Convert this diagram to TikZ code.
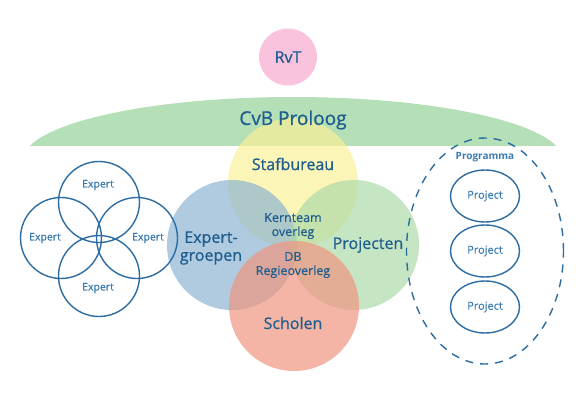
\documentclass[tikz,border=0pt]{standalone}
\usepackage{fontspec}
\setmainfont{Open Sans}
\newfontfamily\semib{Open Sans}[FakeBold=0.8]
\newfontfamily\semil{Open Sans}[FakeBold=0.4]
\usetikzlibrary{shapes.geometric}
\definecolor{txt}{HTML}{1E5E8E}
\definecolor{ltxt}{HTML}{3A7BB2}
\definecolor{lin}{HTML}{2B6CA3}
\definecolor{band}{HTML}{B5DFB6}
\definecolor{pinkc}{HTML}{F9C2DD}
\definecolor{yel}{HTML}{F9F198}
\definecolor{blu}{HTML}{8EB5D1}
\definecolor{grn}{HTML}{AEDAA9}
\definecolor{red}{HTML}{EF9580}
\tikzset{
  bigc/.style={circle, minimum size=130pt, inner sep=0pt, fill opacity=0.7},
  bigt/.style={text=txt, font=\semib\fontsize{16}{18}\selectfont, align=center, inner sep=0pt},
  midt/.style={text=txt, font=\semil\fontsize{12.5}{14}\selectfont, align=center, inner sep=0pt},
  expc/.style={circle, draw=lin, line width=1.4pt, minimum size=81pt, inner sep=0pt},
  expt/.style={text=ltxt, font=\semil\fontsize{10.5}{12}\selectfont, inner sep=0pt},
  projc/.style={ellipse, draw=lin, line width=1.4pt, minimum width=69pt, minimum height=52pt, inner sep=0pt, text=ltxt, font=\semil\fontsize{11}{13}\selectfont},
}
\begin{document}
\begin{tikzpicture}[x=1pt,y=-1pt]
\useasboundingbox (0,0) rectangle (576,400);
% band
\begin{scope}
\clip (0,0) rectangle (576,145);
\fill[band] (293,160) ellipse [x radius=270, y radius=63];
\end{scope}
% RvT
\node[ellipse, fill=pinkc, minimum width=58pt, minimum height=57pt, inner sep=0pt, text=txt, font=\semib\fontsize{16}{18}\selectfont] (rvt) at (288,57) {RvT};
% big circles
\node[bigc, fill=yel] (staf) at (293,183) {};
\node[bigc, fill=blu] (expg) at (232,245) {};
\node[bigc, fill=grn] (proj) at (354,245) {};
\node[bigc, fill=red] (schol) at (294,306) {};
\node[text=txt, font=\semib\fontsize{19}{21}\selectfont, inner sep=0pt] (cvb) at (293,120) {CvB Proloog};
\node[bigt] (tstaf) at (293,164) {Stafbureau};
\node[bigt] (texp) at (211,248) {Expert-\\groepen};
\node[bigt] (tproj) at (368,245) {Projecten};
\node[bigt] (tschol) at (293,323) {Scholen};
\node[midt] (tkern) at (293,226) {Kernteam\\overleg};
\node[midt] (tdb) at (293,265) {DB\\Regieoverleg};
% experts
\node[expc] (e1) at (99,202) {};
\node[expc] (e2) at (61,238) {};
\node[expc] (e3) at (137,238) {};
\node[expc] (e4) at (99,276) {};
\node[expt] (te1) at (98,185) {Expert};
\node[expt] (te2) at (45,238) {Expert};
\node[expt] (te3) at (148,238) {Expert};
\node[expt] (te4) at (98,288) {Expert};
% programma
\node[ellipse, draw=lin, line width=1.4pt, dash pattern=on 8pt off 7pt, minimum width=157pt, minimum height=226pt, inner sep=0pt] (prog) at (485,251) {};
\node[text=ltxt, font=\fontsize{10}{12}\selectfont\bfseries, inner sep=0pt] (tprog) at (485,157) {Programma};
\node[projc] (p1) at (485,196) {Project};
\node[projc] (p2) at (485,251) {Project};
\node[projc] (p3) at (485,307) {Project};
\end{tikzpicture}
\end{document}
